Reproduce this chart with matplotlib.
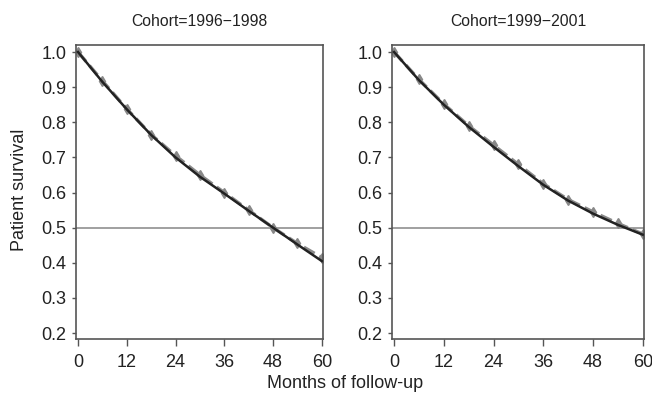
import matplotlib
matplotlib.use("Agg")
import matplotlib.pyplot as plt

plt.rcParams['font.family'] = ['Liberation Sans', 'DejaVu Sans']

months = [0, 6, 12, 18, 24, 30, 36, 42, 48, 54, 60]
titles = ["Cohort=1996\u22121998", "Cohort=1999\u22122001"]
observed = [
    [1.0, 0.918, 0.838, 0.765, 0.705, 0.650, 0.600, 0.550, 0.500, 0.455, 0.415],
    [1.0, 0.922, 0.852, 0.790, 0.735, 0.680, 0.625, 0.580, 0.545, 0.512, 0.482],
]
fitted = [
    [1.0, 0.915, 0.837, 0.764, 0.700, 0.645, 0.597, 0.548, 0.500, 0.452, 0.405],
    [1.0, 0.920, 0.850, 0.787, 0.730, 0.675, 0.622, 0.577, 0.540, 0.508, 0.480],
]
xticks = [0, 12, 24, 36, 48, 60]
yticks = [0.2, 0.3, 0.4, 0.5, 0.6, 0.7, 0.8, 0.9, 1.0]
ref_line = 0.5

fig = plt.figure(figsize=(6.52, 3.94), dpi=100)
W, H = 652, 394
boxes = [(76, 45, 323, 339), (392, 45, 644, 339)]
for i, (x0, y0, x1, y1) in enumerate(boxes):
    ax = fig.add_axes([x0 / W, 1 - y1 / H, (x1 - x0) / W, (y1 - y0) / H])
    ax.axhline(ref_line, color='#999999', lw=1.3, zorder=1)
    ax.plot(months, observed[i], color='#8a8a8a', lw=2.4, ls='--', marker='d',
            ms=5, mfc='#888888', mec='#888888', zorder=2)
    ax.plot(months, fitted[i], color='#222222', lw=1.8, zorder=3)
    ax.set_xlim(-0.5, 60.3)
    ax.set_ylim(0.183, 1.02)
    ax.set_xticks(xticks)
    ax.set_yticks(yticks)
    ax.set_yticklabels([f"{v:.1f}" for v in yticks])
    ax.tick_params(axis='y', direction='out', length=3, width=1, color='#555555',
                   labelsize=13, labelcolor='#222222', pad=4)
    ax.tick_params(axis='x', direction='out', length=5, width=1, color='#555555',
                   labelsize=13, labelcolor='#222222', pad=6)
    for s in ax.spines.values():
        s.set_color('#555555')
        s.set_linewidth(1.2)
    ax.set_title(titles[i], fontsize=11.3, color='#222222', pad=14)

fig.text(20 / W, 1 - 190 / H, "Patient survival", rotation=90, ha='center',
         va='center', fontsize=13, color='#222222')
fig.text(345 / W, 1 - 383 / H, "Months of follow-up", ha='center', va='center',
         fontsize=13, color='#222222')

fig.savefig("out.png", dpi=100)
